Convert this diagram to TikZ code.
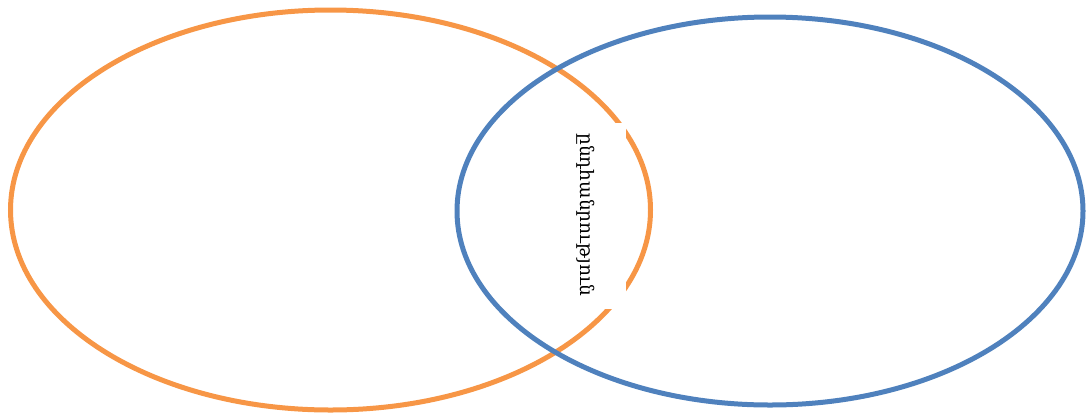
\documentclass[tikz,border=0pt]{standalone}
\usepackage{fontspec}
\newfontfamily\armfont{DejaVu Serif}
\usepackage{tikz}
\definecolor{setorange}{RGB}{247,150,70}
\definecolor{setblue}{RGB}{79,129,189}

\begin{document}
\begin{tikzpicture}[x=1pt, y=-1pt]
                \useasboundingbox (0, 0) rectangle (1089, 416);

                \draw [color = setorange, line width = 5pt] (330.5, 210) ellipse [x radius = 320, y radius = 200];
                \draw [color = setblue, line width = 5pt] (770, 211) ellipse [x radius = 313, y radius = 194];

                \node (gap) [fill = white, minimum width = 71pt, minimum height = 186pt, inner sep = 0pt] at (590.5, 216) {};
                \node (common) [rotate = -90, inner sep = 0pt] at (586, 215)
                    {\armfont\fontsize{18.5pt}{22pt}\selectfont ընդհանրություն};
            \end{tikzpicture}
\end{document}
